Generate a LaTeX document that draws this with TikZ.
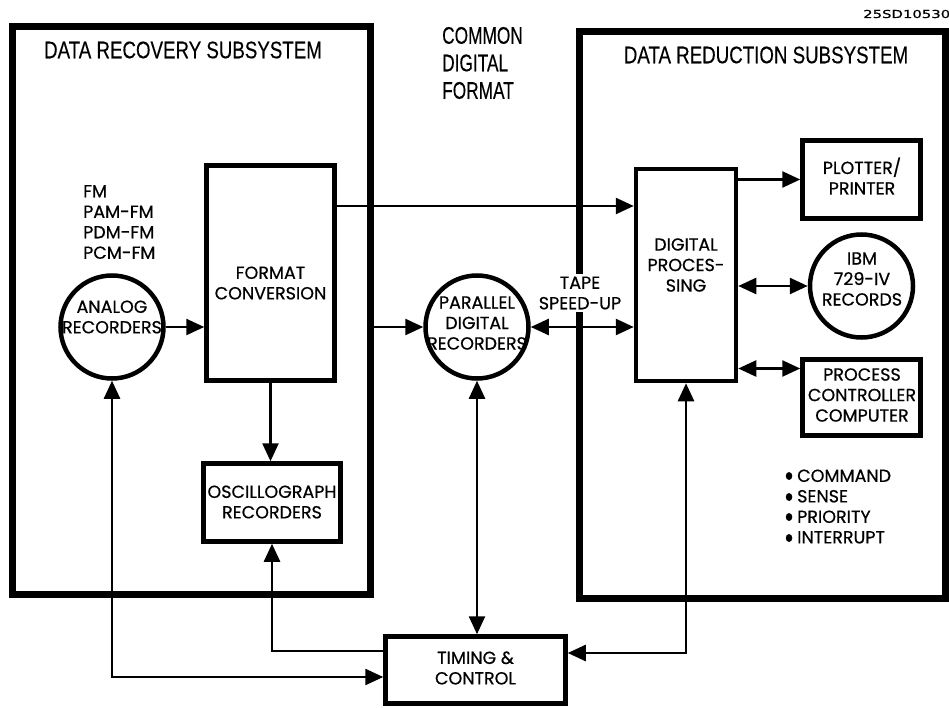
\documentclass[tikz,border=0pt]{standalone}
\usepackage{fontspec}
\setmainfont{Poppins}[FakeBold=0.6]
\newfontfamily\titlefont[FakeStretch=0.78,FakeBold=0.3]{Liberation Sans}
\newfontfamily\narrowfont[FakeStretch=0.72,FakeBold=0.3]{Liberation Sans}
\newfontfamily\codefont[FakeBold=0.5]{DejaVu Sans}
\usetikzlibrary{arrows.meta,shapes.geometric}

\begin{document}
\begin{tikzpicture}[x=1pt,y=-1pt,
  subsys/.style={draw, line width=7pt, inner sep=0pt},
  blk/.style={draw, line width=4.5pt, inner sep=0pt},
  rec/.style={circle, draw, line width=4.5pt, inner sep=0pt, minimum size=103pt},
  conn/.style={line width=2.5pt},
  arr/.style={conn, -{Triangle[length=18pt,width=16pt]}},
  darr/.style={conn, {Triangle[length=18pt,width=16pt]}-{Triangle[length=18pt,width=16pt]}},
  txt/.style={font=\fontsize{17.5}{20.5}\selectfont, align=center, inner sep=0pt},
  ttl/.style={font=\titlefont\fontsize{24}{27.5}\selectfont, inner sep=0pt},
  dot/.style={ellipse, fill, inner sep=0pt, minimum width=6.5pt, minimum height=8pt}]

\useasboundingbox (0,0) rectangle (949,708);

% subsystem frames
\node[subsys, minimum width=358pt, minimum height=567pt] (recov) at (191,310.5) {};
\node[subsys, minimum width=366pt, minimum height=566pt] (reduc) at (762,315) {};

% titles
\node[ttl] (recovT) at (183,50) {DATA RECOVERY SUBSYSTEM};
\node[ttl] (reducT) at (766,55) {DATA REDUCTION SUBSYSTEM};
\node[ttl, font=\narrowfont\fontsize{24}{27.5}\selectfont, align=left, anchor=west] (cdf) at (442,63) {COMMON\\DIGITAL\\FORMAT};
\node[anchor=west, inner sep=0pt, font=\codefont\fontsize{11}{13}\selectfont] (code) at (863,14) {\scalebox{1.35}[1]{25SD10530}};

% recovery blocks
\node[rec] (analog) at (112,327) {};
\node[txt] (analogT) at (112,317) {ANALOG\\RECORDERS};
\node[txt, align=left, anchor=west] (modes) at (83,222) {FM\\PAM-FM\\PDM-FM\\PCM-FM};
\node[blk, minimum width=128pt, minimum height=215pt] (fmt) at (270.5,273) {};
\node[txt] (fmtT) at (270.5,283) {FORMAT\\CONVERSION};
\node[blk, minimum width=137pt, minimum height=78pt] (osc) at (272,502.5) {};
\node[txt] (oscT) at (272,502) {OSCILLOGRAPH\\RECORDERS};

% common format recorder
\node[rec] (par) at (477,327) {};
\node[txt] (parT) at (477,323) {PARALLEL\\DIGITAL\\RECORDERS};

% reduction blocks
\node[blk, minimum width=100pt, minimum height=212pt] (dp) at (686,275) {};
\node[txt] (dpT) at (686,265) {DIGITAL\\PROCES-\\SING};
\node[blk, minimum width=118pt, minimum height=78pt] (plot) at (861.5,179.5) {};
\node[txt] (plotT) at (862,176) {PLOTTER/\\PRINTER};
\node[rec] (ibm) at (861.5,286) {};
\node[txt] (ibmT) at (862,279) {IBM\\729-IV\\RECORDS};
\node[blk, minimum width=118pt, minimum height=76pt] (pcc) at (861.5,397.5) {};
\node[txt] (pccT) at (862,395) {PROCESS\\CONTROLLER\\COMPUTER};

% interface lines
\node[dot] (b1) at (789,476) {};
\node[dot] (b2) at (789,497) {};
\node[dot] (b3) at (789,517) {};
\node[dot] (b4) at (789,538) {};
\node[txt, align=left, anchor=west] (ifc) at (797,506.5) {COMMAND\\SENSE\\PRIORITY\\INTERRUPT};

% timing
\node[blk, minimum width=180pt, minimum height=67pt] (tc) at (475.5,670) {};
\node[txt] (tcT) at (475.5,668) {TIMING \&\\CONTROL};

% tape speed-up label breaks the frame edge
\node[txt, fill=white, inner xsep=2pt, inner ysep=3pt] (tape) at (580,293) {TAPE\\SPEED-UP};

% data paths
\draw[arr] (analog.east) -- (analog.east -| fmt.west);
\coordinate (fmtout) at ([yshift=67pt]fmt.east);
\draw[arr] (fmtout) -- (fmtout -| dp.west);
\coordinate (parin) at (recov.east |- par.west);
\draw[arr] (parin) -- (par.west);
\draw[darr] (par.east) -- (par.east -| dp.west);
\draw[arr] (plot.west -| dp.east) -- (plot.west);
\draw[darr] (ibm.west -| dp.east) -- (ibm.west);
\coordinate (pccin) at ([yshift=29pt]pcc.west);
\draw[darr] (pccin -| dp.east) -- (pccin);
\draw[arr] (fmt.south) -- (fmt.south |- osc.north);

% timing and control lines
\draw[arr] ([yshift=19pt]tc.west) -| (osc.south);
\draw[darr] (analog.south) |- ([yshift=-7pt]tc.west);
\draw[darr] (par.south) -- (par.south |- tc.north);
\draw[darr] (dp.south) |- ([yshift=17pt]tc.east);
\end{tikzpicture}
\end{document}
